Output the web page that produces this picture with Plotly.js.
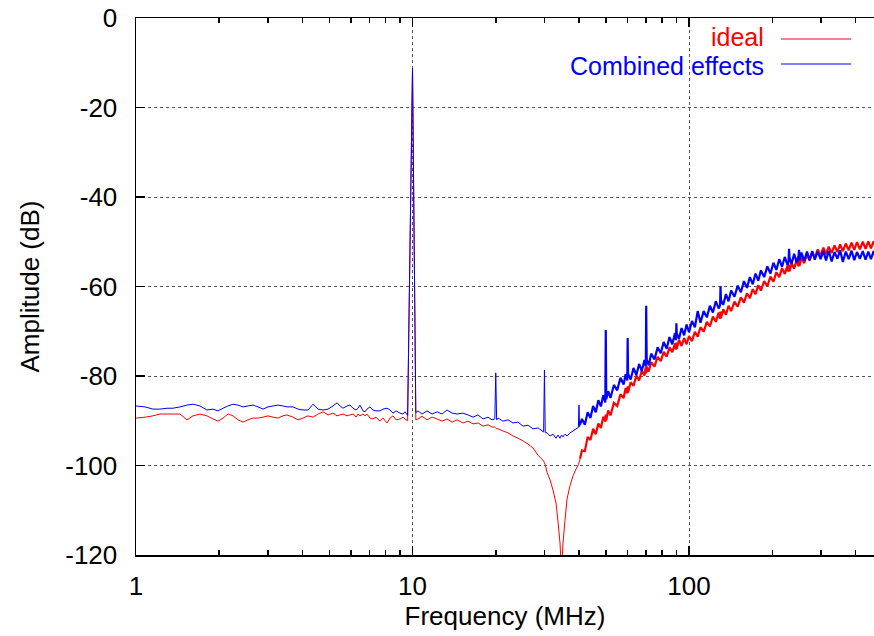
<!DOCTYPE html>
<html>
<head>
<meta charset="utf-8">
<script src="https://cdn.plot.ly/plotly-3.0.1.min.js"></script>
<style>html,body{margin:0;padding:0;background:#fff}#chart{width:874px;height:636px}</style>
</head>
<body>
<div id="chart"></div>
<script>
// Frequency axis (MHz)
const freqMHz = [
  1.000,1.078,1.152,1.221,1.295,1.361,1.443,1.529,1.608,1.704,
  1.806,1.899,1.980,2.064,2.151,2.243,2.338,2.438,2.542,2.650,
  2.763,2.880,3.002,3.130,3.264,3.401,3.517,3.697,3.854,4.018,
  4.189,4.366,4.553,4.747,4.949,5.159,5.333,5.468,5.606,5.796,
  5.943,6.093,6.247,6.352,6.458,6.622,6.733,6.846,7.020,7.197,
  7.379,7.629,7.822,8.087,8.292,8.502,8.717,9.013,9.241,9.395,
  9.6,10.0,10.28,
  10.47,10.82,11.28,11.77,12.27,12.79,13.33,13.90,14.49,15.23,
  15.88,16.55,17.26,17.99,18.76,19.39,19.85,20.0,20.15,20.38,
  21.25,22.15,23.09,24.07,25.09,26.17,27.28,28.44,29.8,30.0,
  30.2,30.65,31.43,32.22,33.04,33.59,34.15,34.6,35.0,35.61,
  36.21,37.12,38.06,39.02,39.8,40.0,40.2,40.35,
  41,42,43,44,45,46,47,48,49,49.8,50,50.2,51,52,53.5,55,56.5,58,59,59.8,60,60.2,
  61.5,63,64.5,66,67.5,69,69.8,70,70.3,71.5,73,75,77,79,81,83,85,87,89,89.7,90,90.3,
  92,94,96,98,100,102.5,105,107.5,110,113,116,119,122,125,128,129.5,130,130.5,
  133,136,139,142,146,150,154,158,162,166,170,174,178,182,187,192,197,202,207,212,
  217,222,227,229,230,231,235,240,245,249,250,251,255,261,267,273,279,285,292,299,
  306,313,320,328,336,344,352,360,369,378,387,396,405,415,425,435,445,455,465,475
];

// "ideal" amplitude (dB)
const idealDb = [
  -89.4,-89.2,-88.9,-88.5,-88.5,-88.5,-88.5,-89.8,-88.9,-88.5,
  -88.9,-89.6,-90.1,-89.4,-88.5,-88.9,-89.8,-90.3,-89.8,-89.4,
  -89.4,-89.2,-88.9,-89.2,-89.4,-88.9,-88.7,-89.2,-89.8,-89.4,
  -88.9,-89.2,-88.5,-88.0,-88.7,-88.3,-88.9,-88.7,-88.5,-88.9,
  -88.7,-88.5,-89.2,-88.5,-88.9,-88.5,-88.9,-88.5,-89.4,-89.6,
  -89.2,-90.1,-89.4,-90.5,-89.4,-88.9,-89.8,-89.6,-89.2,-89.6,
  -90.0,-11.2,-89.8,
  -89.6,-89.0,-89.8,-89.2,-89.6,-90.1,-89.6,-90.3,-89.8,-90.5,
  -90.1,-90.7,-90.5,-91.2,-90.9,-91.4,-91.4,-91.6,-91.8,-91.8,
  -92.3,-92.7,-93.4,-93.9,-94.5,-95.2,-96.1,-97.7,-99.0,-99.4,
  -99.8,-101.5,-103.2,-105.5,-108.4,-112.5,-117.3,-124.0,-117.5,-112.2,
  -107.5,-104.5,-102.3,-100.8,-99.8,-99.3,-99.0,-98.5,
  -96.6,-96.8,-93.6,-94.3,-91.8,-93.0,-90.6,-91.6,-89.1,-90.2,-88.6,-89.9,-87.7,-88.8,-86.0,-86.7,-84.1,-84.9,-82.7,-83.9,-82.3,-83.7,
  -81.4,-82.2,-79.9,-81.0,-78.8,-79.9,-78.0,-79.4,-77.9,-79.0,-76.9,-77.9,-75.7,-76.7,-74.6,-75.7,-73.6,-74.7,-72.7,-74.1,-72.5,-73.9,
  -71.9,-73.3,-71.5,-72.9,-71.1,-72.2,-70.1,-71.2,-69.1,-70.1,-67.9,-68.9,-66.7,-67.9,-65.8,-67.2,-65.6,-67.1,
  -65.1,-66.3,-64.3,-65.5,-63.4,-64.5,-62.4,-63.6,-61.5,-62.6,-60.6,-61.7,-59.7,-60.9,-58.8,-59.9,-57.8,-58.9,-56.8,-57.9,
  -55.9,-57.2,-55.3,-56.7,-55.1,-56.6,-54.8,-56.0,-54.1,-55.5,-53.8,-55.4,-53.5,-54.8,-52.9,-54.2,-52.3,-53.6,-51.7,-53.1,
  -51.3,-52.8,-51.1,-52.5,-50.8,-52.3,-50.6,-52.1,-50.4,-51.9,-50.2,-51.8,-50.1,-51.7,-50.0,-51.6,-49.9,-51.5,-49.9,-51.4
];

// "Combined effects" amplitude (dB)
const combinedDb = [
  -86.7,-86.9,-87.4,-87.4,-87.2,-87.2,-86.9,-86.5,-86.3,-86.7,
  -87.6,-87.4,-87.8,-87.2,-86.7,-86.3,-86.5,-86.9,-86.7,-86.5,
  -86.9,-87.4,-86.9,-86.7,-86.5,-86.7,-86.9,-86.9,-87.4,-87.6,
  -87.6,-86.3,-87.4,-87.6,-87.4,-86.7,-86.0,-86.7,-87.2,-86.7,
  -86.5,-87.2,-87.6,-87.2,-86.5,-87.8,-88.0,-87.4,-86.9,-87.6,
  -87.8,-87.8,-87.4,-87.2,-87.6,-88.3,-87.8,-88.3,-88.5,-88.0,
  -88.8,-11.2,-88.2,
  -87.8,-88.5,-87.8,-88.5,-88.0,-88.5,-87.6,-88.3,-88.5,-88.3,
  -88.7,-89.2,-88.7,-89.6,-89.2,-89.8,-89.6,-79.3,-89.8,-89.4,
  -90.1,-89.8,-90.5,-90.3,-91.2,-91.0,-91.8,-91.6,-92.5,-78.7,
  -92.6,-92.7,-93.4,-93.0,-93.9,-93.2,-93.9,-93.2,-93.6,-93.0,
  -93.4,-92.7,-92.3,-91.8,-91.5,-86.5,-91.3,-90.9,
  -89.6,-90.9,-88.1,-89.4,-86.7,-88.1,-85.4,-86.8,-84.3,-85.9,-69.7,-85.2,-83.4,-84.9,-82.0,-83.2,-80.4,-81.9,-79.6,-81.0,-71.5,-79.5,
  -80.8,-78.2,-79.8,-77.3,-78.9,-76.4,-77.9,-64.3,-76.4,-77.6,-75.0,-76.3,-73.6,-74.9,-72.4,-73.9,-71.3,-72.9,-70.4,-72.0,-68.2,-70.5,
  -71.7,-69.3,-70.9,-68.5,-70.2,-67.7,-69.1,-65.5,-68.1,-65.5,-66.9,-64.3,-65.8,-63.3,-64.9,-64.2,-59.9,-63.0,
  -64.1,-61.7,-63.3,-60.9,-62.3,-59.8,-61.3,-58.8,-60.3,-57.9,-59.5,-57.1,-58.7,-56.4,-57.9,-55.5,-57.1,-54.7,-56.3,-53.9,
  -55.6,-53.4,-55.2,-54.6,-51.6,-53.6,-54.9,-52.7,-54.6,-53.1,-51.8,-54.2,-52.4,-54.3,-52.2,-54.1,-52.1,-54.0,-52.2,-53.9,
  -52.1,-54.2,-52.0,-54.4,-52.3,-53.8,-51.9,-54.5,-52.2,-53.9,-52.0,-54.1,-52.3,-53.8,-52.1,-54.0,-52.2,-53.9,-52.1,-53.7
];

const seriesNames = ['ideal', 'Combined effects'];
const seriesColors = ['#ff0000', '#0000ff'];
const xTickVals = [1, 10, 100];
const xTickLabels = ['1', '10', '100'];
const xMinorTickVals = [2,3,4,5,6,7,8,9,20,30,40,50,60,70,80,90,200,300,400];
const yTickVals = [-120, -100, -80, -60, -40, -20, 0];
const yTickLabels = ['-120', '-100', '-80', '-60', '-40', '-20', '0'];
// above this frequency the traces are a dense noise band
const noisyFromMHz = 40.35;

const X_RANGE = [0, 2.669];   // log10 of the visible frequency span
const FONT = 'Liberation Sans, Arial, Helvetica, sans-serif';
const FS = 26;
const PLOT_H = 537;

const split = freqMHz.findIndex(f => f >= noisyFromMHz);
const traces = [];
[idealDb, combinedDb].forEach((vals, i) => {
  traces.push({
    type: 'scatter', mode: 'lines', name: seriesNames[i], legendgroup: seriesNames[i],
    x: freqMHz.slice(0, split + 1), y: vals.slice(0, split + 1),
    line: {color: seriesColors[i], width: 1, simplify: false}, hoverinfo: 'skip'
  });
  traces.push({
    type: 'scatter', mode: 'lines', name: seriesNames[i], legendgroup: seriesNames[i], showlegend: false,
    x: freqMHz.slice(split), y: vals.slice(split),
    line: {color: seriesColors[i], width: 2.2, simplify: false}, hoverinfo: 'skip'
  });
});
// the combined noise band is drawn on the overlaid twin axis (same scale) that carries the minor ticks
traces[3].xaxis = 'x2';
const ordered = [traces[0], traces[2], traces[1], traces[3]];

const legendRows = [(555 - 37.5) / PLOT_H, (555 - 65.5) / PLOT_H];

const legendShapes = seriesNames.map((n, i) => ({
  type: 'line', xref: 'paper', yref: 'paper',
  x0: 0.874, x1: 0.969, y0: (555 - [39, 64][i]) / PLOT_H, y1: (555 - [39, 64][i]) / PLOT_H,
  line: {color: seriesColors[i], width: 1}
}));

const layout = {
  width: 874,
  height: 636,
  margin: {l: 136, r: 0, t: 18, b: 81, pad: 0},
  paper_bgcolor: '#ffffff',
  plot_bgcolor: '#ffffff',
  showlegend: false,
  font: {family: FONT, size: FS, color: '#000'},
  xaxis: {
    type: 'log',
    range: X_RANGE,
    tickmode: 'array',
    tickvals: xTickVals,
    ticktext: xTickLabels,
    ticks: 'inside',
    ticklen: 9,
    tickwidth: 1.5,
    tickcolor: '#000',
    showline: true,
    linecolor: '#000',
    linewidth: 1.5,
    mirror: 'ticks',
    showgrid: true,
    gridcolor: '#555',
    griddash: 'dot',
    gridwidth: 1,
    zeroline: false,
    ticklabelstandoff: 7,
    tickfont: {family: FONT, size: FS, color: '#000'},
    title: {text: 'Frequency (MHz)', font: {family: FONT, size: FS, color: '#000'}, standoff: 6}
  },
  xaxis2: {
    type: 'log',
    range: X_RANGE,
    overlaying: 'x',
    anchor: 'y',
    side: 'bottom',
    tickmode: 'array',
    tickvals: xMinorTickVals,
    ticks: 'inside',
    ticklen: 5,
    tickwidth: 1.5,
    tickcolor: '#000',
    showticklabels: false,
    showline: false,
    showgrid: false,
    zeroline: false,
    mirror: 'ticks'
  },
  yaxis: {
    range: [-120, 0],
    tickmode: 'array',
    tickvals: yTickVals,
    ticktext: yTickLabels,
    ticks: 'inside',
    ticklen: 9,
    tickwidth: 1.5,
    tickcolor: '#000',
    showline: true,
    linecolor: '#000',
    linewidth: 1.5,
    mirror: false,
    showgrid: true,
    gridcolor: '#555',
    griddash: 'dot',
    gridwidth: 1,
    zeroline: false,
    ticklabelstandoff: 12,
    tickfont: {family: FONT, size: FS, color: '#000'},
    title: {text: 'Amplitude (dB)', font: {family: FONT, size: FS, color: '#000'}, standoff: 18}
  },
  annotations: seriesNames.map((n, i) => ({
    xref: 'paper', yref: 'paper',
    x: 0.852, y: legendRows[i],
    xanchor: 'right', yanchor: 'middle',
    text: n, showarrow: false, borderpad: 0,
    font: {family: FONT, size: 25, color: seriesColors[i]}
  })),
  shapes: legendShapes
};

Plotly.newPlot('chart', ordered, layout, {staticPlot: true, displayModeBar: false});
</script>
</body>
</html>
